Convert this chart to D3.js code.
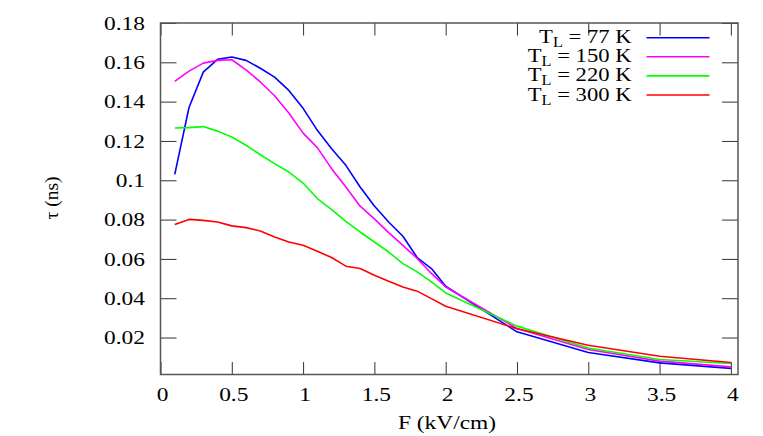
<!DOCTYPE html>
<html>
<head>
<meta charset="utf-8">
<script src="https://cdn.jsdelivr.net/npm/d3@7"></script>
<style>
  body { margin: 0; background: #fff; }
  svg text, svg tspan { font-family: "Liberation Serif", "Times New Roman", serif !important; }
</style>
</head>
<body>
<div id="wrapper"></div>
<script>
// field values (kV/cm)
const fieldValues = [0.1, 0.2, 0.3, 0.4, 0.5, 0.6, 0.7, 0.8, 0.9, 1.0,
                     1.1, 1.2, 1.3, 1.4, 1.5, 1.6, 1.7, 1.8, 1.9, 2.0,
                     2.5, 3.0, 3.5, 4.0];

// relaxation time tau (ns) per lattice temperature
const tau77 = [0.103, 0.137, 0.155, 0.1615, 0.1627, 0.161, 0.157, 0.1525, 0.1457, 0.1366,
               0.1254, 0.116, 0.1076, 0.0966, 0.0869, 0.0788, 0.0715, 0.0607, 0.0551, 0.0461,
               0.0229, 0.0124, 0.0071, 0.0043];
const tau150 = [0.1503, 0.1555, 0.1596, 0.161, 0.1613, 0.1562, 0.150, 0.1430, 0.1342, 0.124,
                0.1166, 0.1059, 0.0966, 0.0868, 0.0804, 0.0734, 0.0669, 0.0602, 0.0526, 0.0457,
                0.0246, 0.0139, 0.008, 0.0051];
const tau220 = [0.1266, 0.1268, 0.1273, 0.125, 0.122, 0.1178, 0.113, 0.1085, 0.1042, 0.0986,
                0.0907, 0.0851, 0.0791, 0.0737, 0.0686, 0.0635, 0.0576, 0.0534, 0.0483, 0.0427,
                0.0258, 0.0147, 0.0088, 0.0068];
const tau300 = [0.0775, 0.0801, 0.0796, 0.0788, 0.0768, 0.0759, 0.0742, 0.0712, 0.0686, 0.0669,
                0.0639, 0.0607, 0.0563, 0.0551, 0.0517, 0.0486, 0.0457, 0.0436, 0.0398, 0.0359,
                0.0245, 0.0161, 0.0105, 0.0073];

const temperatures = ["77", "150", "220", "300"];
const seriesColors = ["#0000ff", "#ff00ff", "#00ff00", "#ff0000"];
const seriesValues = [tau77, tau150, tau220, tau300];

const xTicks = [0, 0.5, 1, 1.5, 2, 2.5, 3, 3.5, 4];
const yTicks = [0.02, 0.04, 0.06, 0.08, 0.1, 0.12, 0.14, 0.16, 0.18];

const serif = "Liberation Serif";
const fontSize = 19.5;
const stretch = 1.2;   // the original glyphs are a little wider than Times

let dimension = {
    width: 763,
    height: 436,
    margin: { top: 23, left: 160.5, bottom: 61.5, right: 25 }
};
dimension.boundedWidth = dimension.width - dimension.margin.left - dimension.margin.right;
dimension.boundedHeight = dimension.height - dimension.margin.top - dimension.margin.bottom;

const wrapper = d3.select("#wrapper")
    .append("svg")
    .attr("width", dimension.width)
    .attr("height", dimension.height)
    .attr("font-family", serif);

const bounded = wrapper.append("g")
    .attr("transform", `translate(${dimension.margin.left},${dimension.margin.top})`);

const xScaler = d3.scaleLinear()
    .domain([0, 4.05])
    .range([0, dimension.boundedWidth]);

const yScaler = d3.scaleLinear()
    .domain([0.0012, 0.18])
    .range([dimension.boundedHeight, 0]);

const axisColor = "#555";

// serif label helper: text -> tspan, like the legend entries
function label(parent, str, transform, anchor) {
    const t = parent.append("text")
        .attr("font-family", serif)
        .attr("font-size", fontSize)
        .attr("fill", "#000")
        .attr("text-anchor", anchor)
        .attr("transform", transform);
    t.append("tspan").attr("font-family", serif).text(str);
    return t;
}

// axes (ticks point inward, like gnuplot); labels drawn separately
const xAxis = bounded.append("g")
    .attr("transform", `translate(0,${dimension.boundedHeight})`)
    .call(d3.axisBottom(xScaler).tickValues(xTicks).tickSize(-12.5).tickFormat(""));
const xTop = bounded.append("g")
    .call(d3.axisTop(xScaler).tickValues(xTicks).tickSize(-12.5).tickFormat(""));
const yAxis = bounded.append("g")
    .call(d3.axisLeft(yScaler).tickValues(yTicks).tickSize(-16).tickFormat(""));
const yRight = bounded.append("g")
    .attr("transform", `translate(${dimension.boundedWidth},0)`)
    .call(d3.axisRight(yScaler).tickValues(yTicks).tickSize(-16).tickFormat(""));

[xAxis, xTop, yAxis, yRight].forEach(a => {
    a.select(".domain").remove();
    a.selectAll(".tick text").remove();
    a.selectAll(".tick line").attr("stroke", "#333").attr("stroke-width", 1);
});

xTicks.forEach(v => {
    label(bounded, d3.format("")(v),
        `translate(${xScaler(v) + 2},${dimension.boundedHeight + 26}) scale(${stretch},1)`, "middle");
});
yTicks.forEach(v => {
    label(bounded, d3.format("")(v),
        `translate(-15.5,${yScaler(v) + 6.6}) scale(${stretch},1)`, "end");
});

// border
bounded.append("rect")
    .attr("x", 0)
    .attr("y", 0)
    .attr("width", dimension.boundedWidth)
    .attr("height", dimension.boundedHeight)
    .attr("fill", "none")
    .attr("stroke", axisColor)
    .attr("stroke-width", 1.5);

// curves
const lineGen = d3.line()
    .x((d, i) => xScaler(fieldValues[i]))
    .y(d => yScaler(d));

seriesValues.forEach((vals, k) => {
    bounded.append("path")
        .datum(vals)
        .attr("d", lineGen)
        .attr("fill", "none")
        .attr("stroke", seriesColors[k])
        .attr("stroke-width", 1.6)
        .attr("stroke-linejoin", "round");
});

// legend
const legend = wrapper.append("g");
temperatures.forEach((t, k) => {
    const ly = 37.7 + k * 19.1;
    const lt = legend.append("text")
        .attr("font-family", serif)
        .attr("text-anchor", "end")
        .attr("font-size", fontSize)
        .attr("transform", `translate(631.5,${ly + 5.5}) scale(1.16,1)`);
    lt.append("tspan").text("T");
    lt.append("tspan").attr("dy", 4).attr("font-size", 14).text("L");
    lt.append("tspan").attr("dy", -4).text(` = ${t} K`);
    legend.append("line")
        .attr("x1", 646.5)
        .attr("x2", 709.5)
        .attr("y1", ly)
        .attr("y2", ly)
        .attr("stroke", seriesColors[k])
        .attr("stroke-width", 1.6);
});

// axis titles
label(wrapper, "F (kV/cm)", `translate(447,429) scale(${stretch},1)`, "middle");
label(wrapper, "τ (ns)", "translate(58,198) rotate(-90)", "middle");
</script>
</body>
</html>
